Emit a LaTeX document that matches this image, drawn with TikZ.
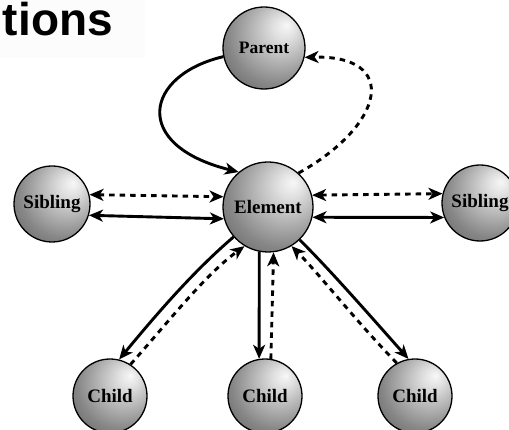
\documentclass[tikz,border=0pt]{standalone}
\usepackage{fontspec}
\setmainfont{Liberation Serif}
\newfontfamily\titlefont{Liberation Sans}
\usetikzlibrary{arrows.meta}
\pgfdeclareradialshading{sphereshade}{\pgfpoint{14bp}{14bp}}{color(0bp)=(black!3); color(7bp)=(black!12); color(30bp)=(black!47); color(55bp)=(black!74); color(70bp)=(black!80)}
\tikzset{
  ball/.style={circle, draw=black, line width=1.3pt, shading=sphereshade, inner sep=0pt, font=\bfseries\fontsize{19}{19}\selectfont},
  tip/.tip={Stealth[length=14pt,width=12pt,inset=4pt]},
  link/.style={line width=2.9pt, -tip},
  both/.style={line width=2.9pt, tip-tip},
  dash5/.style={dash pattern=on 5.5pt off 5pt}
}
\begin{document}
\begin{tikzpicture}[x=1pt,y=1pt]
\useasboundingbox (0,0) rectangle (509,-430);
\fill[black!1] (0,0) rectangle (145,-58);
\node[anchor=base east, inner sep=0pt, font=\titlefont\bfseries\fontsize{46}{46}\selectfont] (title) at (113,-36) {tions};

\node[ball, minimum size=82pt, font=\bfseries\fontsize{17.5}{17.5}\selectfont] (P) at (264,-48) {Parent};
\node[ball, minimum size=90pt] (E) at (268,-207) {Element};
\node[ball, minimum size=76pt] (SL) at (52,-204) {Sibling};
\node[ball, minimum size=76pt] (SR) at (480,-203) {Sibling};
\node[ball, minimum size=74pt] (C1) at (110,-396) {Child};
\node[ball, minimum size=74pt] (C2) at (265,-396) {Child};
\node[ball, minimum size=74pt] (C3) at (415,-396) {Child};

% parent
\draw[link] (P.192) .. controls (145,-75) and (130,-145) .. (E.130);
\draw[link, dash5] (E.48) .. controls (385,-125) and (400,-55) .. (P.-13);

% siblings
\draw[both, dash5] (SL.14) -- (E.167);
\draw[both] (SL.-17) -- (E.-165);
\draw[both, dash5] (E.15) -- (SR.166);
\draw[both] (E.-13) -- (SR.202);

% children
\draw[link] (E.221) .. controls (195,-270) and (160,-310) .. (C1.76);
\draw[link, dash5] (C1.57) .. controls (170,-320) and (205,-275) .. (E.239);
\draw[link] (E.259) -- (C2.99);
\draw[link, dash5] (C2.81) -- (E.277);
\draw[link] (E.314) .. controls (330,-270) and (365,-310) .. (C3.100);
\draw[link, dash5] (C3.119) .. controls (355,-320) and (320,-275) .. (E.301);
\end{tikzpicture}
\end{document}
